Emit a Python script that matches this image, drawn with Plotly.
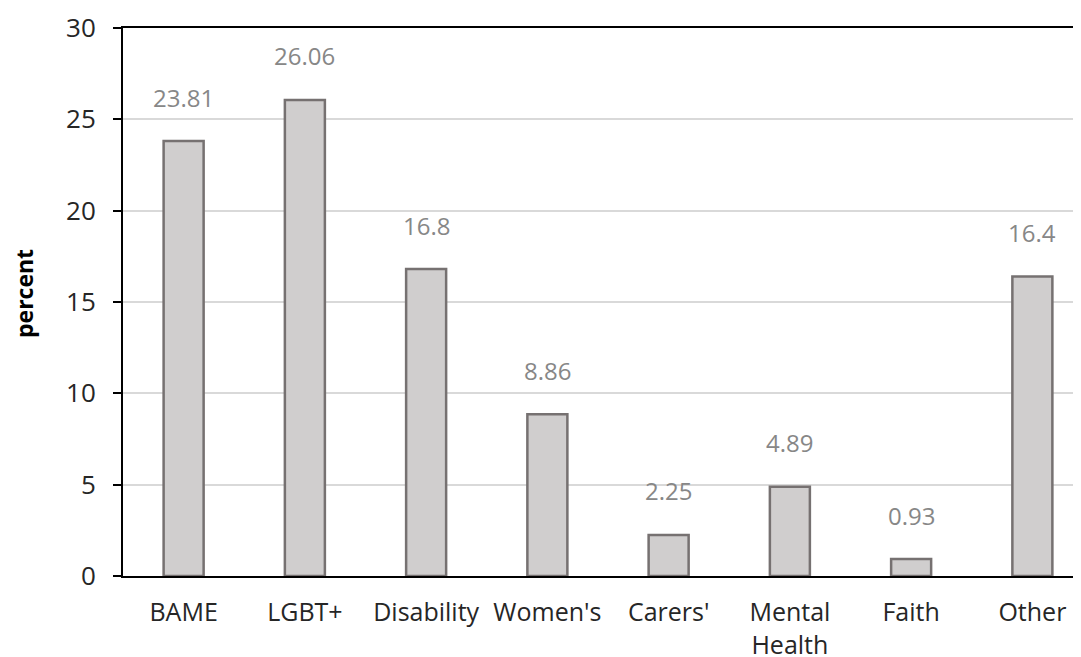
import plotly.graph_objects as go

categories = ["BAME", "LGBT+", "Disability", "Women's", "Carers'", "Mental<br>Health", "Faith", "Other"]
values = [23.81, 26.06, 16.8, 8.86, 2.25, 4.89, 0.93, 16.4]
value_labels = ["23.81", "26.06", "16.8", "8.86", "2.25", "4.89", "0.93", "16.4"]
y_ticks = [0, 5, 10, 15, 20, 25, 30]

FONT = "Open Sans"

fig = go.Figure()
fig.add_trace(go.Bar(
    x=categories,
    y=values,
    width=0.33,
    marker=dict(color="#d0cece", line=dict(color="#767171", width=2.5)),
    hoverinfo="skip",
))

for c, v, t in zip(categories, values, value_labels):
    fig.add_annotation(x=c, y=v, text=t, showarrow=False, yshift=44,
                       yanchor="middle", xanchor="center",
                       font=dict(family=FONT, size=24, color="#878787"))

# y-axis title
fig.add_annotation(x=0, y=0.5, xref="paper", yref="paper", text="<b>percent</b>",
                   textangle=-90, showarrow=False, xanchor="center", yanchor="middle",
                   xshift=-99, yshift=8,
                   font=dict(family=FONT, size=23, color="#000000"))

fig.update_layout(
    width=1093, height=657,
    margin=dict(l=115, r=8, t=20, b=89),
    plot_bgcolor="white", paper_bgcolor="white",
    showlegend=False,
    font=dict(family=FONT, size=25, color="#262626"),
    bargap=0.67,
)
fig.update_xaxes(
    showline=True, linecolor="#000000", linewidth=2, mirror=True,
    ticks="", showgrid=False, automargin=False,
    tickfont=dict(family=FONT, size=25, color="#262626"),
    ticklabelstandoff=13,
)
fig.update_yaxes(
    range=[0, 30], tickvals=y_ticks,
    showline=True, linecolor="#000000", linewidth=2,
    ticks="outside", ticklen=8, tickwidth=2, tickcolor="#000000",
    showgrid=True, gridcolor="#d9d9d9", gridwidth=1.5,
    zeroline=False, automargin=False,
    tickfont=dict(family=FONT, size=26, color="#262626"),
    ticklabelstandoff=12,
)

fig.write_html("out.html")
